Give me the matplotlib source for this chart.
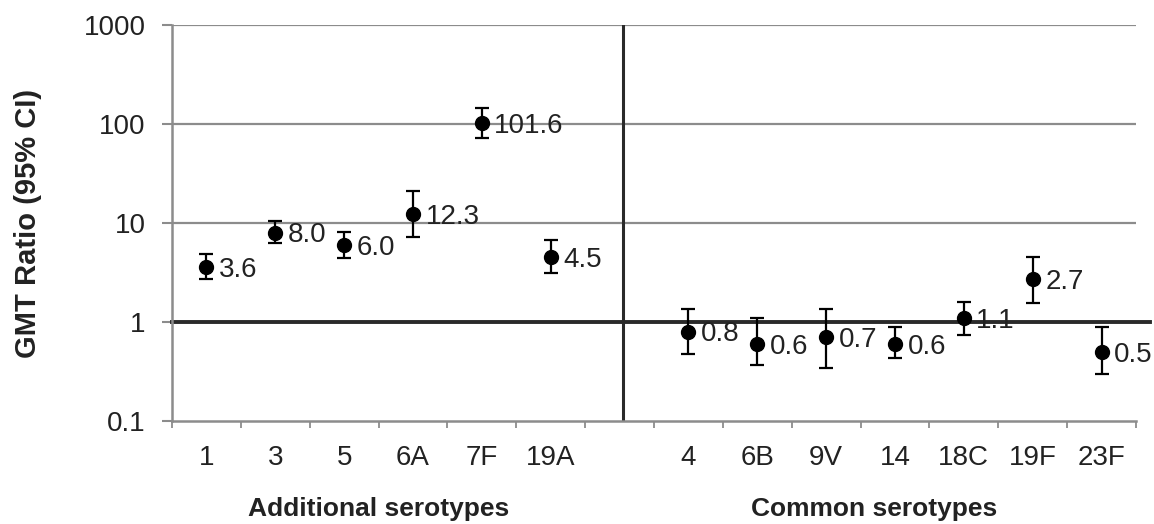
import numpy as np
import matplotlib
matplotlib.use("Agg")
import matplotlib.pyplot as plt
from matplotlib.transforms import blended_transform_factory

plt.rcParams['font.family'] = ['Liberation Sans', 'DejaVu Sans']

# additional serotypes
add_labels = ['1', '3', '5', '6A', '7F', '19A']
add_gmt = [3.6, 8.0, 6.0, 12.3, 101.6, 4.5]
add_low = [2.7, 6.3, 4.4, 7.2, 72, 3.1]
add_high = [4.9, 10.4, 8.2, 21.2, 145, 6.8]

# common serotypes
com_labels = ['4', '6B', '9V', '14', '18C', '19F', '23F']
com_gmt = [0.8, 0.6, 0.7, 0.6, 1.1, 2.7, 0.5]
com_low = [0.47, 0.37, 0.34, 0.43, 0.74, 1.56, 0.30]
com_high = [1.35, 1.1, 1.35, 0.88, 1.6, 4.5, 0.88]

yticks = [0.1, 1, 10, 100, 1000]
ytick_labels = ['0.1', '1', '10', '100', '1000']

# slot positions: 6 categories, one blank slot, 7 categories
add_x = np.arange(len(add_labels)) + 0.5
com_x = np.arange(len(com_labels)) + len(add_labels) + 1.5
n_slots = len(add_labels) + 1 + len(com_labels)
divider = len(add_labels) + 0.55

fig = plt.figure(figsize=(11.54, 5.24), dpi=100)
ax = fig.add_axes([172/1154, 1-421/524, 964/1154, 396/524])

ax.set_yscale('log')
ax.set_ylim(0.1, 1000)
ax.set_xlim(0, n_slots)

# gridlines
for yv in [10, 100, 1000]:
    ax.axhline(yv, color='#8c8c8c', lw=1.6, zorder=1)
ax.axhline(1, xmin=0, xmax=1.015, color='#2a2a2a', lw=2.8, zorder=2, clip_on=False)
ax.axvline(divider, color='#2a2a2a', lw=2.2, zorder=2)

for xs, g, lo, hi in [(add_x, add_gmt, add_low, add_high), (com_x, com_gmt, com_low, com_high)]:
    g = np.array(g)
    err = np.vstack([g - np.array(lo), np.array(hi) - g])
    ax.errorbar(xs, g, yerr=err, fmt='o', color='black', ms=10, elinewidth=1.6,
                capsize=5, capthick=1.6, zorder=4)
    for x, v in zip(xs, g):
        ax.annotate('%.1f' % v, (x, v), xytext=(9, -2), textcoords='offset points',
                    va='center', ha='left', fontsize=20, color='#222222', zorder=5)

for s in ['top', 'right']:
    ax.spines[s].set_visible(False)
ax.spines['left'].set_color('#8c8c8c')
ax.spines['left'].set_linewidth(1.8)
ax.spines['bottom'].set_color('#8c8c8c')
ax.spines['bottom'].set_linewidth(1.8)

ax.set_yticks(yticks)
ax.set_yticklabels(ytick_labels)
ax.yaxis.set_minor_locator(matplotlib.ticker.NullLocator())
ax.tick_params(axis='y', which='major', length=7, width=1.5, color='#8c8c8c',
               labelsize=20, labelcolor='#222222', pad=12)

ax.set_xticks(np.concatenate([add_x, com_x]))
ax.set_xticklabels(add_labels + com_labels)
ax.set_xticks(np.arange(0, n_slots + 1), minor=True)
ax.tick_params(axis='x', which='major', length=0, labelsize=20, labelcolor='#222222', pad=17)
ax.tick_params(axis='x', which='minor', length=5, width=1.3, color='#8c8c8c')

ax.set_ylabel('GMT Ratio (95% CI)', fontsize=21, fontweight='bold', color='#222222')
ax.yaxis.set_label_coords(-0.135, 0.5)

trans = blended_transform_factory(ax.transData, fig.transFigure)
ax.text(len(add_labels) / 2, 0.028, 'Additional serotypes', transform=trans,
        ha='center', va='center', fontsize=19, fontweight='bold', color='#222222')
ax.text(10.2, 0.028, 'Common serotypes', transform=trans,
        ha='center', va='center', fontsize=19, fontweight='bold', color='#222222')

fig.savefig('out.png', dpi=100)
